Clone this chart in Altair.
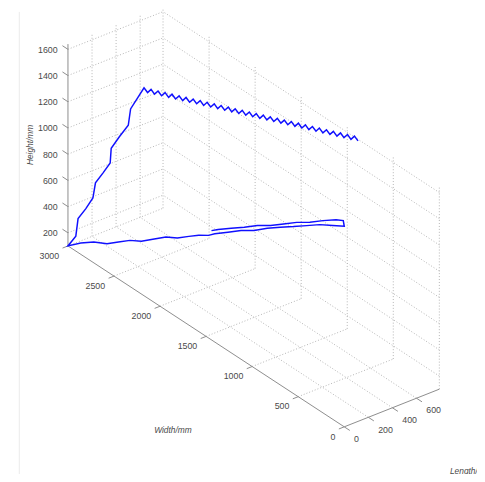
import altair as alt
import pandas as pd

# ---------------- values ----------------
L_LIM = [0, 790]          # Length/mm axis range
W_LIM = [0, 3000]         # Width/mm axis range
H_LIM = [100, 1640]       # Height/mm axis range
LENGTH_TICKS = [0, 200, 400, 600]
WIDTH_TICKS = [0, 500, 1000, 1500, 2000, 2500, 3000]
HEIGHT_TICKS = [200, 400, 600, 800, 1000, 1200, 1400, 1600]

# trajectory, part 1: return pass
ret_L = [40, 40, 40, 40, 40, 40, 40, 40, 40, 40, 40, 40]
ret_W = [1494, 1422, 1280, 1138, 995, 853, 711, 568, 426, 284, 141, 63]
ret_H = [895, 937, 1012, 1085, 1163, 1229, 1306, 1384, 1450, 1528, 1601, 1630]

# part 2: ramp down to the corner
ramp_L = [0, 0, 0, 0, 0, 0, 0, 0, 0, 0, 0, 0, 0, 0, 0, 0, 0, 0, 0, 0, 0, 0, 0, 0]
ramp_W = [0, 125, 267, 409, 552, 694, 836, 979, 1121, 1263, 1406, 1473, 1580,
          1687, 1812, 1936, 2079, 2203, 2327, 2452, 2576, 2719, 2861, 3000]
ramp_H = [1630, 1578, 1520, 1447, 1374, 1304, 1231, 1148, 1082, 1004, 926, 883,
          834, 777, 707, 657, 574, 502, 452, 382, 312, 259, 186, 100]

# part 3: climb
rise_L = [4, 12, 17, 22, 28, 33, 37, 44, 49, 55, 62]
rise_W = [2920, 2906, 2830, 2758, 2738, 2662, 2590, 2588, 2506, 2417, 2401]
rise_H = [210, 347, 455, 569, 692, 801, 908, 1019, 1142, 1269, 1398]

# part 4: weaving pass along the top
weave_L = [71, 83, 95, 106, 118, 130, 142, 154, 165, 177, 189, 201, 212, 224, 236,
           248, 260, 271, 283, 295, 307, 319, 330, 342, 354, 366, 377, 389, 401, 413,
           425, 436, 448, 460, 472, 484, 495, 507, 519, 531, 542, 554, 566, 578, 590,
           601, 613, 625, 637, 649, 660, 672, 684, 696, 707, 719, 731, 743, 755, 766,
           778, 790]
weave_W = [2267, 2244, 2222, 2199, 2176, 2154, 2131, 2108, 2086, 2063, 2040, 2017,
           1995, 1972, 1949, 1927, 1904, 1881, 1859, 1836, 1813, 1791, 1768, 1745,
           1722, 1700, 1677, 1654, 1632, 1609, 1586, 1564, 1541, 1518, 1496, 1473,
           1450, 1428, 1405, 1382, 1359, 1337, 1314, 1291, 1269, 1246, 1223, 1201,
           1178, 1155, 1133, 1110, 1087, 1065, 1042, 1019, 996, 974, 951, 928, 906, 883]
weave_H = [1618, 1588, 1618, 1588, 1618, 1588, 1618, 1588, 1618, 1588, 1618, 1588,
           1618, 1588, 1618, 1588, 1618, 1588, 1618, 1588, 1618, 1588, 1618, 1588,
           1618, 1588, 1618, 1588, 1618, 1588, 1618, 1588, 1618, 1588, 1618, 1588,
           1618, 1588, 1618, 1588, 1618, 1588, 1618, 1588, 1618, 1588, 1618, 1588,
           1618, 1588, 1618, 1588, 1618, 1588, 1618, 1588, 1618, 1588, 1618, 1588,
           1618, 1588]

# ---------------- tables ----------------
traj_L = ret_L + ramp_L + rise_L + weave_L
traj_W = ret_W + ramp_W + rise_W + weave_W
traj_H = ret_H + ramp_H + rise_H + weave_H
traj = pd.DataFrame({"L": traj_L, "W": traj_W, "H": traj_H,
                     "i": list(range(len(traj_L)))})

l0, l1 = L_LIM
w0, w1 = W_LIM
h0, h1 = H_LIM
segs = []


def seg(kind, a, b):
    segs.append(dict(kind=kind, L1=a[0], W1=a[1], H1=a[2], L2=b[0], W2=b[1], H2=b[2]))


for w in WIDTH_TICKS[1:]:
    seg("grid", (l0, w, h0), (l1, w, h0))
for l in LENGTH_TICKS[1:]:
    seg("grid", (l, w0, h0), (l, w1, h0))
    seg("grid", (l, w1, h0), (l, w1, h1))
for h in HEIGHT_TICKS:
    seg("grid", (l0, w1, h), (l1, w1, h))
    seg("grid", (l1, w0, h), (l1, w1, h))
for w in WIDTH_TICKS:
    seg("grid", (l1, w, h0), (l1, w, h1))

seg("axis", (l0, w0, h0), (l0, w1, h0))
seg("axis", (l0, w0, h0), (l1, w0, h0))
seg("axis", (l0, w1, h0), (l0, w1, h1))
TICK_L, TICK_W = 45, 60
for w in WIDTH_TICKS:
    seg("axis", (l0, w, h0), (l0 - TICK_L, w, h0))
for l in LENGTH_TICKS:
    seg("axis", (l, w0, h0), (l, w0 - TICK_W, h0))
for h in HEIGHT_TICKS:
    seg("axis", (l0, w1, h), (l0, w1 + TICK_W, h))
seg_df = pd.DataFrame(segs)


# ---------------- fixed 3-D view (orthographic projection) ----------------
def px(L, W):
    return f"350 + 0.1224*{L} - 0.09367*{W}"


def py(L, W, H):
    return f"443.33 - 0.0485*{L} - 0.06133*{W} - 0.1333*{H}"


XS = alt.Scale(domain=[8, 485], nice=False, zero=False)
YS = alt.Scale(domain=[8, 474], nice=False, zero=False, reverse=True)
FONT = "Liberation Sans"
TXT = "#4a4a4a"

segbase = alt.Chart(seg_df).transform_calculate(
    x1=px("datum.L1", "datum.W1"), y1=py("datum.L1", "datum.W1", "datum.H1"),
    x2=px("datum.L2", "datum.W2"), y2=py("datum.L2", "datum.W2", "datum.H2"))
enc = dict(x=alt.X("x1:Q", scale=XS, axis=None), y=alt.Y("y1:Q", scale=YS, axis=None),
           x2="x2:Q", y2="y2:Q")
grid = segbase.transform_filter("datum.kind == 'grid'").mark_rule(
    color="#b4b4b4", strokeWidth=1, strokeDash=[1, 2]).encode(**enc)
axes = segbase.transform_filter("datum.kind == 'axis'").mark_rule(
    color="#8c8c8c", strokeWidth=1).encode(**enc)

path = alt.Chart(traj).transform_calculate(
    px=px("datum.L", "datum.W"), py=py("datum.L", "datum.W", "datum.H")
).mark_line(color="#1010ff", strokeWidth=1.5).encode(
    x=alt.X("px:Q", scale=XS, axis=None), y=alt.Y("py:Q", scale=YS, axis=None),
    order="i:Q")


def tick_labels(values, Lx, Wx, Hx, **kw):
    return alt.Chart(pd.DataFrame({"v": values})).transform_calculate(
        px=px(Lx, Wx), py=py(Lx, Wx, Hx)
    ).mark_text(font=FONT, fontSize=9, color=TXT, baseline="middle", **kw).encode(
        x=alt.X("px:Q", scale=XS, axis=None), y=alt.Y("py:Q", scale=YS, axis=None),
        text=alt.Text("v:Q", format="d"))


wlab = tick_labels(WIDTH_TICKS, str(l0), "datum.v", str(h0), align="right", dx=-9, dy=10)
llab = tick_labels(LENGTH_TICKS, "datum.v", str(w0), str(h0), align="left", dx=10, dy=12.5)
hlab = tick_labels(HEIGHT_TICKS, str(l0), str(w1), "datum.v", align="right", dx=-10.5, dy=0.5)

title_kw = dict(font=FONT, fontSize=8.5, fontStyle="italic", color=TXT, baseline="middle")
t_w = alt.Chart().mark_text(align="center", **title_kw).encode(
    x=alt.value(167.7), y=alt.value(425.3), text=alt.value("Width/mm"))
t_l = alt.Chart().mark_text(align="left", **title_kw).encode(
    x=alt.value(449.5), y=alt.value(467), text=alt.value("Length/mm"))
t_h = alt.Chart().mark_text(align="center", angle=270, **title_kw).encode(
    x=alt.value(22.5), y=alt.value(135.3), text=alt.value("Height/mm"))

edge = alt.Chart().mark_rule(color="#ececec", strokeWidth=1).encode(
    x=alt.value(11.5), y=alt.value(0), y2=alt.value(471))

chart = alt.layer(edge, grid, axes, path, wlab, llab, hlab, t_w, t_l, t_h).properties(
    width=477, height=466, padding=0, autosize=alt.AutoSizeParams(type="none")
).configure_view(strokeWidth=0)

chart.save("out.html", embed_options={"renderer": "svg", "actions": False})
